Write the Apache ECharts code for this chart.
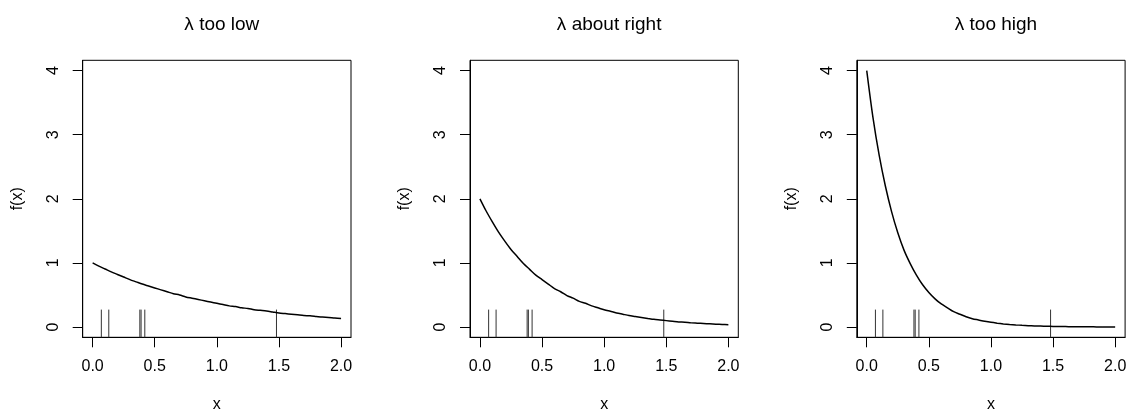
<!DOCTYPE html>
<html>
	<head>
		<meta charset="utf-8">
		<title>λ too low / about right / too high</title>
		<script src="https://cdn.jsdelivr.net/npm/echarts@6/dist/echarts.min.js"></script>
		<style>
			html, body { margin: 0; padding: 0; background: #fff; }
		</style>
	</head>
	<body>
		<div id="main" style="width: 1127px;height:412px;"></div>
		<script type="text/javascript">
			// 各面板标题
			var panelTitles = ['λ too low', 'λ about right', 'λ too high'];
			// 横轴取值 (0 到 2)
			var xValues = [0, 0.05, 0.1, 0.15, 0.2, 0.25, 0.3, 0.35, 0.4, 0.45,
				0.5, 0.55, 0.6, 0.65, 0.7, 0.75, 0.8, 0.85, 0.9, 0.95,
				1.0, 1.05, 1.1, 1.15, 1.2, 1.25, 1.3, 1.35, 1.4, 1.45,
				1.5, 1.55, 1.6, 1.65, 1.7, 1.75, 1.8, 1.85, 1.9, 1.95, 2.0];
			// 密度曲线
			var fLow = [1.00, 0.95, 0.905, 0.86, 0.82, 0.78, 0.74, 0.705, 0.67, 0.64,
				0.61, 0.58, 0.55, 0.52, 0.50, 0.47, 0.45, 0.43, 0.41, 0.39,
				0.37, 0.35, 0.33, 0.32, 0.30, 0.29, 0.27, 0.26, 0.25, 0.235,
				0.22, 0.21, 0.20, 0.19, 0.18, 0.175, 0.165, 0.155, 0.15, 0.14, 0.135];
			var fRight = [2.00, 1.81, 1.64, 1.48, 1.34, 1.21, 1.10, 0.99, 0.90, 0.81,
				0.74, 0.67, 0.60, 0.55, 0.49, 0.45, 0.40, 0.37, 0.33, 0.30,
				0.27, 0.245, 0.22, 0.20, 0.18, 0.165, 0.15, 0.135, 0.12, 0.11,
				0.10, 0.09, 0.08, 0.075, 0.065, 0.06, 0.055, 0.05, 0.045, 0.04, 0.037];
			var fHigh = [4.00, 3.27, 2.68, 2.20, 1.80, 1.47, 1.20, 0.99, 0.81, 0.66,
				0.54, 0.44, 0.36, 0.30, 0.24, 0.20, 0.16, 0.13, 0.11, 0.09,
				0.073, 0.06, 0.049, 0.04, 0.033, 0.027, 0.022, 0.018, 0.015, 0.012,
				0.010, 0.008, 0.007, 0.005, 0.004, 0.0035, 0.003, 0.0025, 0.002, 0.0016, 0.0013];
			// 观测数据 (rug)
			var rugX = [0.07, 0.13, 0.38, 0.39, 0.42, 1.48];
			// 刻度
			var xTicks = [0, 0.5, 1, 1.5, 2];
			var yTicks = [0, 1, 2, 3, 4];

			var curves = [fLow, fRight, fHigh];
			var font = "'Liberation Sans', Arial, Helvetica, sans-serif";
			// 面板左边界 (像素)
			var panelLeft = [82.7, 470, 856.8];
			var panelWidth = 268.3;
			var panelTop = 60.3;
			var panelHeight = 277;
			// R 风格: 坐标范围各扩展 4%
			var xMin = -0.08, xMax = 2.08, yMin = -0.16, yMax = 4.16;
			var rugTop = yMin + 0.1 * (yMax - yMin);

			var myChart = echarts.init(document.getElementById('main'));

			var grid = [], xAxis = [], yAxis = [], series = [], title = [];
			for (let i = 0; i < 3; i++) {
				grid.push({
					left: panelLeft[i], top: panelTop,
					width: panelWidth, height: panelHeight,
					outerBoundsMode: 'none',
					show: true, borderColor: '#000', borderWidth: 1,
					backgroundColor: 'transparent'
				});
				title.push({
					text: panelTitles[i],
					left: panelLeft[i] + panelWidth / 2,
					top: 10,
					textAlign: 'center',
					textStyle: { fontFamily: font, fontSize: 19, fontWeight: 'normal', color: '#000' }
				});
				xAxis.push({
					type: 'value', gridIndex: i, min: xMin, max: xMax,
					position: 'bottom',
					name: 'x', nameLocation: 'middle', nameGap: 59,
					nameTextStyle: { fontFamily: font, fontSize: 16, color: '#000' },
					axisLine: { show: true, onZero: false, lineStyle: { color: '#000', width: 1 } },
					axisTick: { show: true, inside: false, length: 10, customValues: xTicks,
						lineStyle: { color: '#000', width: 1 } },
					axisLabel: { customValues: xTicks, margin: 21,
						fontFamily: font, fontSize: 16, color: '#000',
						formatter: function (v) { return v.toFixed(1); } },
					splitLine: { show: false }
				});
				yAxis.push({
					type: 'value', gridIndex: i, min: yMin, max: yMax,
					position: 'left',
					name: 'f(x)', nameLocation: 'middle', nameGap: 57,
					nameTextStyle: { fontFamily: font, fontSize: 16, color: '#000' },
					axisLine: { show: true, onZero: false, lineStyle: { color: '#000', width: 1 } },
					axisTick: { show: true, inside: false, length: 10, customValues: yTicks,
						lineStyle: { color: '#000', width: 1 } },
					axisLabel: { customValues: yTicks, margin: 21, rotate: 90,
						fontFamily: font, fontSize: 16, color: '#000' },
					splitLine: { show: false }
				});
				series.push({
					type: 'line', xAxisIndex: i, yAxisIndex: i,
					showSymbol: false, silent: true,
					smooth: 0.3,
					lineStyle: { color: '#000', width: 1.5 },
					data: xValues.map(function (x, k) { return [x, curves[i][k]]; })
				});
				// rug 竖线
				series.push({
					type: 'custom', xAxisIndex: i, yAxisIndex: i, silent: true,
					data: rugX.map(function (x) { return [x]; }),
					renderItem: function (params, api) {
						var p0 = api.coord([api.value(0), yMin]);
						var p1 = api.coord([api.value(0), rugTop]);
						return {
							type: 'line',
							shape: { x1: p0[0], y1: p0[1], x2: p1[0], y2: p1[1] },
							style: { stroke: '#333', lineWidth: 1 }
						};
					}
				});
			}

			var option = {
				animation: false,
				backgroundColor: '#fff',
				title: title,
				grid: grid,
				xAxis: xAxis,
				yAxis: yAxis,
				series: series
			};
			option && myChart.setOption(option);
		</script>
	</body>
</html>
